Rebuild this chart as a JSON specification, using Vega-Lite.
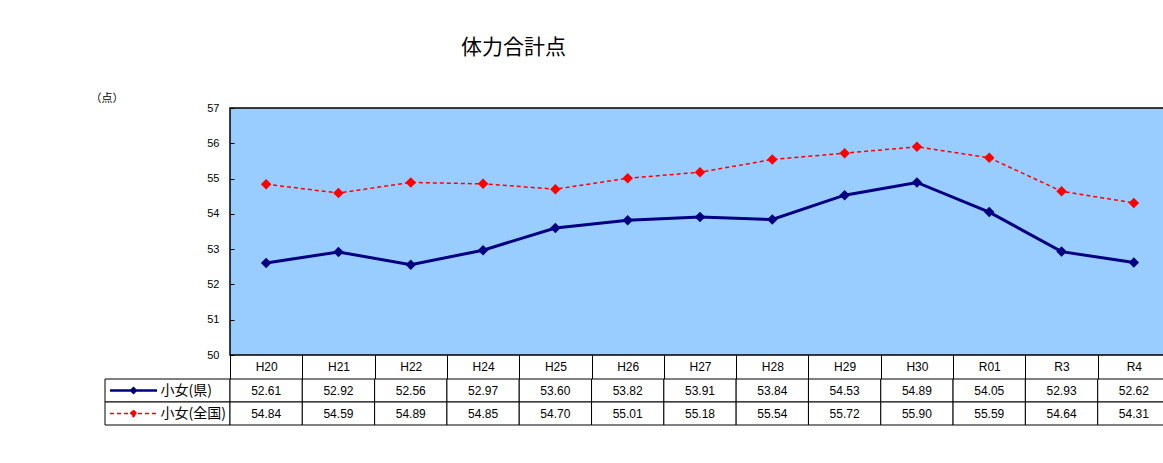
{
  "$schema": "https://vega.github.io/schema/vega-lite/v6.json",
  "autosize": {"type": "pad"},
  "padding": {"left": 89, "top": 37, "right": 0, "bottom": 5},
  "background": "white",
  "datasets": {
    "main": [
      {"cat": "H20", "series": "小女(県)", "value": 52.61},
      {"cat": "H21", "series": "小女(県)", "value": 52.92},
      {"cat": "H22", "series": "小女(県)", "value": 52.56},
      {"cat": "H24", "series": "小女(県)", "value": 52.97},
      {"cat": "H25", "series": "小女(県)", "value": 53.60},
      {"cat": "H26", "series": "小女(県)", "value": 53.82},
      {"cat": "H27", "series": "小女(県)", "value": 53.91},
      {"cat": "H28", "series": "小女(県)", "value": 53.84},
      {"cat": "H29", "series": "小女(県)", "value": 54.53},
      {"cat": "H30", "series": "小女(県)", "value": 54.89},
      {"cat": "R01", "series": "小女(県)", "value": 54.05},
      {"cat": "R3", "series": "小女(県)", "value": 52.93},
      {"cat": "R4", "series": "小女(県)", "value": 52.62},
      {"cat": "H20", "series": "小女(全国)", "value": 54.84},
      {"cat": "H21", "series": "小女(全国)", "value": 54.59},
      {"cat": "H22", "series": "小女(全国)", "value": 54.89},
      {"cat": "H24", "series": "小女(全国)", "value": 54.85},
      {"cat": "H25", "series": "小女(全国)", "value": 54.70},
      {"cat": "H26", "series": "小女(全国)", "value": 55.01},
      {"cat": "H27", "series": "小女(全国)", "value": 55.18},
      {"cat": "H28", "series": "小女(全国)", "value": 55.54},
      {"cat": "H29", "series": "小女(全国)", "value": 55.72},
      {"cat": "H30", "series": "小女(全国)", "value": 55.90},
      {"cat": "R01", "series": "小女(全国)", "value": 55.59},
      {"cat": "R3", "series": "小女(全国)", "value": 54.64},
      {"cat": "R4", "series": "小女(全国)", "value": 54.31}
    ]
  },
  "title": {
    "text": "体力合計点",
    "anchor": "start",
    "frame": "group",
    "dx": 356,
    "offset": 33,
    "fontSize": 21,
    "font": "Noto Sans CJK JP",
    "fontWeight": "normal",
    "color": "black"
  },
  "columns": 2,
  "spacing": {"row": 24, "column": 0},
  "bounds": "flush",
  "align": "each",
  "concat": [
    {
      "width": 125,
      "height": 247,
      "data": {"values": [{}]},
      "mark": {"type": "point", "opacity": 0}
    },
    {
      "width": 940,
      "height": 247,
      "view": {"fill": "#99CCFF", "stroke": "black", "strokeWidth": 1.5},
      "data": {"name": "main"},
      "encoding": {
        "x": {
          "field": "cat", "type": "nominal",
          "sort": ["H20","H21","H22","H24","H25","H26","H27","H28","H29","H30","R01","R3","R4"],
          "scale": {"type": "band", "paddingInner": 0, "paddingOuter": 0},
          "axis": {
            "title": null, "orient": "bottom", "tickBand": "extent", "tickSize": 24,
            "tickColor": "black", "tickWidth": 1, "domain": false, "grid": false,
            "labelPadding": -18, "labelFontSize": 12, "labelColor": "black",
            "labelFont": "Liberation Sans", "labelAngle": 0, "labelOverlap": false
          }
        },
        "y": {
          "field": "value", "type": "quantitative",
          "scale": {"domain": [50, 57], "nice": false, "zero": false},
          "axis": {
            "values": [50, 51, 52, 53, 54, 55, 56, 57],
            "grid": false, "domain": false, "tickSize": -4, "tickColor": "black",
            "labelPadding": 15, "labelFontSize": 11, "labelColor": "black",
            "labelFont": "Liberation Sans",
            "title": "（点）", "titleAngle": 0, "titleAlign": "left", "titleBaseline": "middle",
            "titleX": -140, "titleY": -10, "titleFontSize": 11, "titleFontWeight": "normal",
            "titleFont": "Noto Sans CJK JP", "titleColor": "black"
          }
        }
      },
      "layer": [
        {
          "transform": [{"filter": "datum.series === '小女(全国)'"}],
          "mark": {"type": "line", "color": "#FF0000", "strokeWidth": 1.5, "strokeDash": [4, 3]}
        },
        {
          "transform": [{"filter": "datum.series === '小女(県)'"}],
          "mark": {"type": "line", "color": "#000080", "strokeWidth": 3}
        },
        {
          "mark": {"type": "point", "shape": "diamond", "filled": true, "size": 110, "opacity": 1},
          "encoding": {
            "color": {
              "field": "series", "type": "nominal",
              "scale": {"domain": ["小女(県)", "小女(全国)"], "range": ["#000080", "#FF0000"]},
              "legend": null
            }
          }
        }
      ]
    },
    {
      "width": 125,
      "height": 46,
      "data": {"name": "main"},
      "transform": [{"filter": "datum.cat === 'H20'"}],
      "encoding": {
        "y": {
          "field": "series", "type": "nominal", "sort": ["小女(県)", "小女(全国)"],
          "scale": {"type": "band", "paddingInner": 0, "paddingOuter": 0},
          "axis": null
        }
      },
      "layer": [
        {"mark": {"type": "rect", "fill": "white", "stroke": "black", "strokeWidth": 1}},
        {
          "transform": [{"filter": "datum.series === '小女(県)'"}],
          "mark": {"type": "point", "shape": "M-1,0L1,0M0,-0.1L0.1,0L0,0.1L-0.1,0Z", "size": 2209, "filled": true, "opacity": 1, "fill": "#000080", "stroke": "#000080", "strokeWidth": 2.5},
          "encoding": {"x": {"datum": "sym", "type": "nominal", "scale": {"type": "point", "domain": ["sym", "lab"], "padding": 0.419}, "axis": null}}
        },
        {
          "transform": [{"filter": "datum.series === '小女(全国)'"}],
          "mark": {"type": "point", "shape": "M-1,0L1,0M0,-0.14L0.14,0L0,0.14L-0.14,0Z", "size": 2209, "filled": true, "opacity": 1, "fill": "#FF0000", "stroke": "#FF0000", "strokeWidth": 1.3, "strokeDash": [4, 3]},
          "encoding": {"x": {"datum": "sym", "type": "nominal"}}
        },
        {
          "mark": {"type": "text", "fontSize": 14, "font": "Noto Sans CJK JP", "color": "black", "align": "left", "dx": -41},
          "encoding": {"x": {"datum": "lab", "type": "nominal"}, "text": {"field": "series"}}
        }
      ]
    },
    {
      "width": 940,
      "height": 46,
      "data": {"name": "main"},
      "encoding": {
        "x": {
          "field": "cat", "type": "nominal",
          "sort": ["H20","H21","H22","H24","H25","H26","H27","H28","H29","H30","R01","R3","R4"],
          "scale": {"type": "band", "paddingInner": 0, "paddingOuter": 0},
          "axis": null
        },
        "y": {
          "field": "series", "type": "nominal", "sort": ["小女(県)", "小女(全国)"],
          "scale": {"type": "band", "paddingInner": 0, "paddingOuter": 0},
          "axis": null
        }
      },
      "layer": [
        {"mark": {"type": "rect", "fill": "white", "stroke": "black", "strokeWidth": 1}},
        {
          "mark": {"type": "text", "fontSize": 12, "font": "Liberation Sans", "color": "black"},
          "encoding": {"text": {"field": "value", "type": "quantitative", "format": ".2f"}}
        }
      ]
    }
  ],
  "config": {
    "view": {"stroke": null},
    "font": "Liberation Sans"
  }
}
